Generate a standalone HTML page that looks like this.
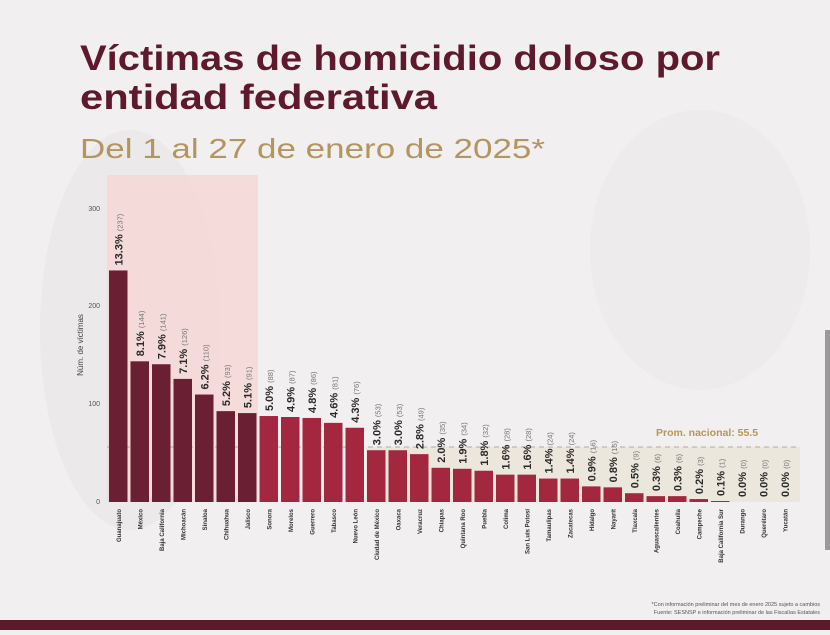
<!DOCTYPE html>
<html><head><meta charset="utf-8"><style>
body{margin:0;width:830px;height:630px;overflow:hidden;background:#f1efef;font-family:"Liberation Sans",sans-serif}
</style></head><body>
<svg width="830" height="630" xmlns="http://www.w3.org/2000/svg" font-family="Liberation Sans, sans-serif">
<rect width="830" height="630" fill="#f1efef"/>
<ellipse cx="130" cy="330" rx="90" ry="200" fill="#e8e4e4" opacity="0.6"/>
<ellipse cx="700" cy="250" rx="110" ry="140" fill="#ebe7e7" opacity="0.6"/>
<rect x="0" y="620" width="830" height="10" fill="#5a1a2a"/>
<rect x="825" y="330" width="5" height="220" fill="#9a9a9a"/>
<text x="80" y="70" font-size="35" font-weight="bold" fill="#5e1a2c" textLength="640" lengthAdjust="spacingAndGlyphs">Víctimas de homicidio doloso por</text>
<text x="80" y="109" font-size="35" font-weight="bold" fill="#5e1a2c" textLength="357" lengthAdjust="spacingAndGlyphs">entidad federativa</text>
<text x="80" y="158" font-size="28" fill="#b3955f" textLength="465" lengthAdjust="spacingAndGlyphs">Del 1 al 27 de enero de 2025*</text>
<rect x="107" y="175" width="151" height="327" fill="#f7d6d6" opacity="0.8"/>
<rect x="366" y="447" width="434" height="55" fill="#ebe7dc"/>
<line x1="107" y1="447" x2="800" y2="447" stroke="#b9a7a0" stroke-dasharray="5,4" stroke-width="1"/>
<text x="656" y="436" font-size="10.5" font-weight="bold" fill="#b7955a">Prom. nacional: 55.5</text>
<g font-size="7" fill="#555" text-anchor="end">
<text x="100" y="504">0</text><text x="100" y="406">100</text><text x="100" y="308">200</text><text x="100" y="211">300</text>
</g>
<text transform="translate(83,345) rotate(-90)" font-size="8" fill="#444" text-anchor="middle">Núm. de víctimas</text>
<g id="bars"></g>
<text x="820" y="606" font-size="5.5" fill="#555" text-anchor="end">*Con información preliminar del mes de enero 2025 sujeto a cambios</text>
<text x="820" y="614" font-size="5.5" fill="#555" text-anchor="end">Fuente: SESNSP e información preliminar de las Fiscalías Estatales</text>
</svg>
<script>
var v=[237,144,141,126,110,93,91,88,87,86,81,76,53,53,49,35,34,32,28,28,24,24,16,15,9,6,6,3,1,0,0,0];
var p=["13.3","8.1","7.9","7.1","6.2","5.2","5.1","5.0","4.9","4.8","4.6","4.3","3.0","3.0","2.8","2.0","1.9","1.8","1.6","1.6","1.4","1.4","0.9","0.8","0.5","0.3","0.3","0.2","0.1","0.0","0.0","0.0"];
var n=["Guanajuato","México","Baja California","Michoacán","Sinaloa","Chihuahua","Jalisco","Sonora","Morelos","Guerrero","Tabasco","Nuevo León","Ciudad de México","Oaxaca","Veracruz","Chiapas","Quintana Roo","Puebla","Colima","San Luis Potosí","Tamaulipas","Zacatecas","Hidalgo","Nayarit","Tlaxcala","Aguascalientes","Coahuila","Campeche","Baja California Sur","Durango","Querétaro","Yucatán"];
var s="";
for(var i=0;i<32;i++){var x=109+i*21.5,h=v[i]*0.977,y=502-h,c=i<7?"#6a1f33":"#a3283f";
if(h>0)s+='<rect x="'+x+'" y="'+y+'" width="18.5" height="'+h+'" fill="'+c+'"/>';
var cx=x+9.25+4,ty=y-5;
s+='<text transform="translate('+cx+','+ty+') rotate(-90)" font-size="11" font-weight="bold" fill="#2a2a2a">'+p[i]+'% <tspan font-size="7.5" font-weight="normal" fill="#777">('+v[i]+')</tspan></text>';
s+='<text transform="translate('+(x+12)+',509) rotate(-90)" font-size="6" font-weight="bold" fill="#333" text-anchor="end">'+n[i]+'</text>';}
document.getElementById("bars").innerHTML=s;
</script>
</body></html>
